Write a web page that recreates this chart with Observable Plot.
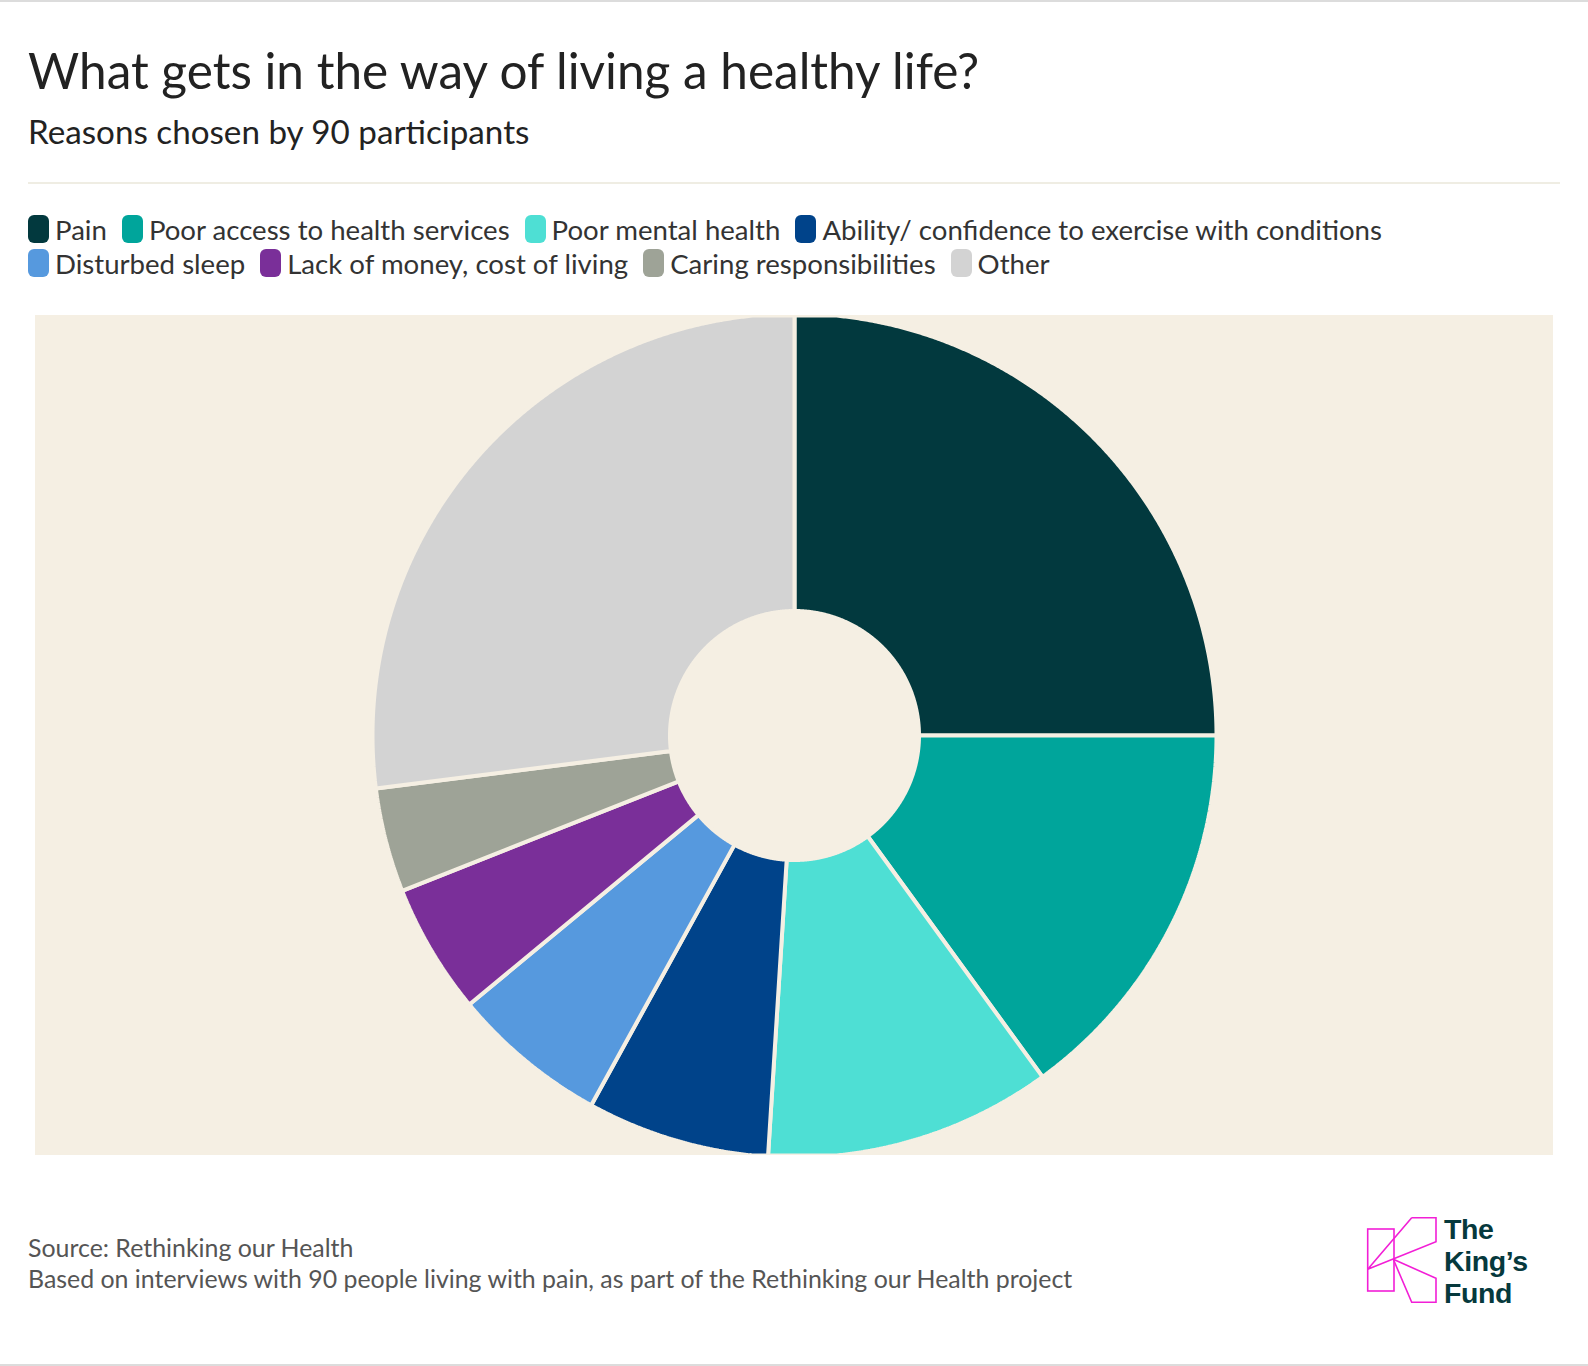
<!DOCTYPE html>
<html>
<head>
<meta charset="utf-8">
<script src="https://cdn.jsdelivr.net/npm/d3@7"></script>
<script src="https://cdn.jsdelivr.net/npm/@observablehq/plot@0.6"></script>
<style>
  html, body { margin: 0; padding: 0; background: #fff; }
  body { width: 1588px; height: 1366px; position: relative; overflow: hidden; font-family: Lato, "Noto Sans", sans-serif; }
  .rule { position: absolute; left: 0; width: 1588px; height: 2px; background: #dcdcdc; }
  #title { position: absolute; left: 28px; top: 45px; font-size: 49.5px; line-height: 50px; color: #222; white-space: nowrap; }
  #subtitle { position: absolute; left: 28px; top: 115px; font-size: 33.2px; line-height: 33px; color: #222; white-space: nowrap; }
  #sep { position: absolute; left: 28px; top: 182px; width: 1532px; height: 2px; background: #efede3; }
  #legend { position: absolute; left: 28px; top: 212px; }
  .lrow { display: flex; height: 34px; align-items: center; white-space: nowrap; }
  .item { display: flex; align-items: center; margin-right: 15px; font-size: 27.6px; color: #333; }
  .sw { width: 21px; height: 28px; border-radius: 6px; margin-right: 6px; }
  #chart { position: absolute; left: 35px; top: 315px; }
  #footer { position: absolute; left: 28px; top: 1232px; font-size: 24.9px; line-height: 30.5px; color: #555; white-space: nowrap; }
  #logo { position: absolute; left: 1340px; top: 1180px; overflow: visible; }
  #logo text { font-family: "Liberation Sans", Arial, sans-serif; font-weight: 700; font-size: 28.5px; letter-spacing: -0.4px; fill: #06393d; }
</style>
</head>
<body>
<div class="rule" style="top:0"></div>
<div class="rule" style="top:1364px"></div>
<div id="title"></div>
<div id="subtitle"></div>
<div id="sep"></div>
<div id="legend"></div>
<div id="chart"></div>
<div id="footer"></div>
<svg id="logo" width="248" height="186" viewBox="0 0 248 186">
  <g fill="none" stroke="#f21fd6" stroke-width="1.6" stroke-linejoin="miter">
    <rect x="27.7" y="49" width="26.3" height="62"></rect>
    <polyline points="71.7,37.7 96,37.7 96,61.7 27.7,89.3 71.7,37.7"></polyline>
    <polyline points="53.3,79.3 96,98.3 96,122.3 71.7,122.3 53.3,79.3"></polyline>
  </g>
  <text x="104" y="59"><tspan x="104" y="59">The</tspan><tspan x="104" y="91">King’s</tspan><tspan x="104" y="123">Fund</tspan></text>
</svg>
<script>
// ---- data ----
const titleText = "What gets in the way of living a healthy life?";
const subtitleText = "Reasons chosen by 90 participants";
const categories = [
  "Pain",
  "Poor access to health services",
  "Poor mental health",
  "Ability/ confidence to exercise with conditions",
  "Disturbed sleep",
  "Lack of money, cost of living",
  "Caring responsibilities",
  "Other"
];
const values = [25, 15, 11, 7, 6, 5, 4, 27];
const colors = ["#02393e", "#00a59b", "#4edfd4", "#00438a", "#5699de", "#7a2f99", "#9ea397", "#d3d3d3"];
const legendRows = [[0, 1, 2, 3], [4, 5, 6, 7]];
const footerLines = [
  "Source: Rethinking our Health",
  "Based on interviews with 90 people living with pain, as part of the Rethinking our Health project"
];
const innerRatio = 124.5 / 422;
const domainRatio = 420 / 422;
const bg = "#f5efe3";

// ---- text ----
document.getElementById("title").textContent = titleText;
document.getElementById("subtitle").textContent = subtitleText;
document.getElementById("footer").innerHTML = footerLines.map(s => `<div>${s}</div>`).join("");

const legend = document.getElementById("legend");
for (const row of legendRows) {
  const r = document.createElement("div");
  r.className = "lrow";
  for (const i of row) {
    const it = document.createElement("div");
    it.className = "item";
    const sw = document.createElement("div");
    sw.className = "sw";
    sw.style.background = colors[i];
    const t = document.createElement("span");
    t.textContent = categories[i];
    it.appendChild(sw); it.appendChild(t);
    r.appendChild(it);
  }
  legend.appendChild(r);
}

// ---- slices ----
const data = categories.map((c, i) => ({category: c, value: values[i]}));
const arcs = d3.pie().sort(null).value(d => d.value)(data);
function ring(a0, a1, r0, r1) {
  const step = Math.PI / 720;
  const n = Math.max(2, Math.ceil((a1 - a0) / step));
  const pts = [];
  for (let i = 0; i <= n; i++) { const a = a0 + (a1 - a0) * i / n; pts.push([r1 * Math.sin(a), -r1 * Math.cos(a)]); }
  for (let i = n; i >= 0; i--) { const a = a0 + (a1 - a0) * i / n; pts.push([r0 * Math.sin(a), -r0 * Math.cos(a)]); }
  pts.push(pts[0]);
  return pts;
}
const features = arcs.map(a => ({
  type: "Feature",
  properties: {category: a.data.category},
  geometry: {type: "Polygon", coordinates: [ring(a.startAngle, a.endAngle, innerRatio, 1)]}
}));
const domain = {type: "Polygon", coordinates: [d3.range(0, 361).map(k => [domainRatio * Math.sin(k * Math.PI / 180), -domainRatio * Math.cos(k * Math.PI / 180)])]};

const chart = Plot.plot({
  width: 1518,
  height: 840,
  margin: 0,
  style: {background: bg, overflow: "hidden"},
  projection: {type: "identity", domain},
  color: {domain: categories, range: colors},
  marks: [
    Plot.geo(features, {fill: d => d.properties.category, stroke: bg, strokeWidth: 4, strokeLinejoin: "miter"})
  ]
});
document.getElementById("chart").appendChild(chart);
</script>
</body>
</html>
